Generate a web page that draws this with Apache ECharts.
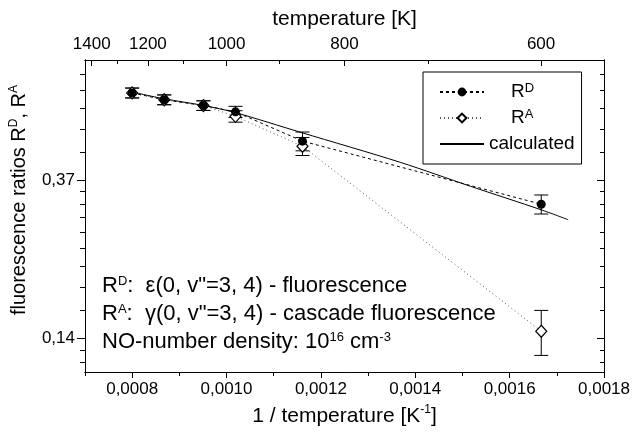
<!DOCTYPE html>
<html><head><meta charset="utf-8">
<script src="https://cdn.jsdelivr.net/npm/echarts@6/dist/echarts.min.js"></script>
<style>html,body{margin:0;padding:0;background:#fff}#c{width:637px;height:433px}</style>
</head><body><div id="c"></div>
<script>
const FONT = "'Liberation Sans', Arial, sans-serif";

// ---- data ----
const invTemp   = [0.000800, 0.000868, 0.000951, 0.001019, 0.001161, 0.001667];
const ratioD    = [0.639, 0.612, 0.590, 0.567, 0.471, 0.316];
const errD      = [0.020, 0.019, 0.018, 0.020, 0.028, 0.019];
const ratioA    = [0.639, 0.612, 0.590, 0.551, 0.456, 0.1414];
const errA      = [0.020, 0.019, 0.018, 0.020, 0.026, 0.020];
const calcInvTemp = [0.000797, 0.000867, 0.000952, 0.001019, 0.001157, 0.001368, 0.001517, 0.001667, 0.001724];
const calcRatio   = [0.644, 0.616, 0.590, 0.564, 0.498, 0.412, 0.354, 0.305, 0.2865];

// ---- axis ticks ----
const xRange = [0.0007, 0.0018];
const xMajorTicks = [0.0008, 0.0010, 0.0012, 0.0014, 0.0016, 0.0018];
const xMinorTicks = [0.0007, 0.0009, 0.0011, 0.0013, 0.0015, 0.0017];
const tempMajorTicks = [1400, 1200, 1000, 800, 600];
const tempMinorTicks = [1300, 1100, 900, 700];
const yRange = [0.1093, 0.787];
const yMajorTicks = [0.13534, 0.36788];
const yMinorTicks = [0.1163, 0.1258, 0.1612, 0.1870, 0.2129, 0.2387, 0.2646, 0.2904, 0.3162, 0.3421, 0.4381, 0.5083, 0.5786, 0.6488, 0.7190];

const axisColor = '#000';
const lineSt = {color: axisColor, width: 1};
const supRich = {
  s: {fontSize: 12, fontFamily: FONT, color: '#000', verticalAlign: 'top', lineHeight: 12},
};

function xAx(extra) {
  return Object.assign({
    type: 'value', min: xRange[0], max: xRange[1],
    splitLine: {show: false}, axisLine: {show: true, onZero: false, lineStyle: lineSt},
    axisTick: {show: false}, axisLabel: {show: false}
  }, extra);
}
function yAx(extra) {
  return Object.assign({
    type: 'log', logBase: Math.E, min: yRange[0], max: yRange[1],
    splitLine: {show: false}, minorSplitLine: {show: false},
    axisLine: {show: true, onZero: false, lineStyle: lineSt},
    axisTick: {show: false}, axisLabel: {show: false}
  }, extra);
}
// helper tick axes placed in natural-log units (same extent as the log axis)
function yLnTicks(position, values, length, inside) {
  return {
    type: 'value', position: position,
    min: Math.log(yRange[0]), max: Math.log(yRange[1]),
    splitLine: {show: false},
    axisLine: {show: true, onZero: false, lineStyle: lineSt},
    axisTick: {show: true, inside: inside, length: length, lineStyle: lineSt,
      customValues: values.map(Math.log).sort((a, b) => a - b)},
    axisLabel: {show: false}
  };
}

const fmtX = v => v.toFixed(4).replace('.', ',');
const fmtY = v => v.toFixed(2).replace('.', ',');

const chart = echarts.init(document.getElementById('c'), null, {renderer: 'canvas'});

function errRender(params, api) {
  const x = api.value(0), y = api.value(1), e = api.value(2);
  const top = api.coord([x, y + e]);
  const bot = api.coord([x, y - e]);
  const hw = 7;
  const st = {stroke: '#000', lineWidth: 1};
  return {type: 'group', children: [
    {type: 'line', shape: {x1: top[0], y1: top[1], x2: bot[0], y2: bot[1]}, style: st},
    {type: 'line', shape: {x1: top[0] - hw, y1: top[1], x2: top[0] + hw, y2: top[1]}, style: st},
    {type: 'line', shape: {x1: bot[0] - hw, y1: bot[1], x2: bot[0] + hw, y2: bot[1]}, style: st}
  ]};
}

const legendNames = {RD: '{p|}R{s|D}', RA: '{p|}R{s|A}', calculated: 'calculated'};
const annRich = {s: {fontSize: 13, fontFamily: FONT, fill: '#000', verticalAlign: 'top', lineHeight: 13}};

const option = {
  animation: false,
  backgroundColor: '#fff',
  textStyle: {fontFamily: FONT, color: '#000'},
  grid: {left: 84, right: 33, top: 60, bottom: 59},
  xAxis: [
    xAx({position: 'bottom',
      axisTick: {show: true, customValues: xMajorTicks, length: 6, lineStyle: lineSt},
      axisLabel: {show: true, customValues: xMajorTicks, formatter: fmtX, fontSize: 17, color: '#000', fontFamily: FONT, margin: 9},
      name: '1 / temperature [K{s|-1}]', nameLocation: 'middle', nameGap: 32,
      nameTextStyle: {fontSize: 21, color: '#000', fontFamily: FONT, lineHeight: 24, rich: supRich}
    }),
    xAx({position: 'bottom',
      axisTick: {show: true, customValues: xMinorTicks, length: 4, lineStyle: lineSt}
    }),
    xAx({position: 'top',
      axisTick: {show: true, inside: true, customValues: tempMajorTicks.map(t => 1 / t), length: 6, lineStyle: lineSt},
      axisLabel: {show: true, customValues: tempMajorTicks.map(t => 1 / t), formatter: v => String(Math.round(1 / v)), fontSize: 17, color: '#000', fontFamily: FONT, margin: 7},
      name: 'temperature [K]', nameLocation: 'middle', nameGap: 30,
      nameTextStyle: {fontSize: 21, color: '#000', fontFamily: FONT}
    }),
    xAx({position: 'top',
      axisTick: {show: true, inside: true, customValues: tempMinorTicks.map(t => 1 / t), length: 4, lineStyle: lineSt}
    })
  ],
  yAxis: [
    yAx({position: 'left',
      axisTick: {show: true, customValues: yMajorTicks, length: 8, lineStyle: lineSt},
      axisLabel: {show: true, customValues: yMajorTicks, formatter: fmtY, fontSize: 17, color: '#000', fontFamily: FONT, margin: 10},
      name: 'fluorescence ratios R{s|D}, R{s|A}', nameLocation: 'middle', nameGap: 44, nameRotate: 90,
      nameTextStyle: {fontSize: 20, color: '#000', fontFamily: FONT, lineHeight: 23, rich: supRich, padding: [0, 0, 0, 32]}
    }),
    yLnTicks('left', yMinorTicks, 5, false),
    yLnTicks('right', yMajorTicks, 7, true),
    yLnTicks('right', yMinorTicks, 4, true)
  ],
  legend: {
    orient: 'vertical', left: 423, top: 72,
    padding: [10, 7, 10, 16],
    borderColor: '#000', borderWidth: 1, borderRadius: 0,
    itemWidth: 44, itemHeight: 11, itemGap: 6,
    selectedMode: false,
    data: [
      {name: 'RD'},
      {name: 'RA'},
      {name: 'calculated', itemStyle: {color: 'rgba(0,0,0,0)', borderWidth: 0, opacity: 0}}
    ],
    formatter: n => legendNames[n],
    textStyle: {fontSize: 19, color: '#000', fontFamily: FONT, lineHeight: 20,
      rich: {p: {width: 22}, s: {fontSize: 13, fontFamily: FONT, color: '#000', verticalAlign: 'top', lineHeight: 13}}}
  },
  graphic: [
    {type: 'text', left: 102, top: 275, style: {text: 'R{s|D}:  ε(0, v"=3, 4) - fluorescence', font: '22px ' + FONT, fill: '#000', rich: annRich}},
    {type: 'text', left: 102, top: 303, style: {text: 'R{s|A}:  γ(0, v"=3, 4) - cascade fluorescence', font: '22px ' + FONT, fill: '#000', rich: annRich}},
    {type: 'text', left: 102, top: 331, style: {text: 'NO-number density: 10{s|16} cm{s|-3}', font: '22px ' + FONT, fill: '#000', rich: annRich}}
  ],
  series: [
    {type: 'custom', name: 'errA', xAxisIndex: 0, yAxisIndex: 0, renderItem: errRender,
      data: invTemp.map((x, i) => [x, ratioA[i], errA[i]]), z: 2, silent: true},
    {type: 'custom', name: 'errD', xAxisIndex: 0, yAxisIndex: 0, renderItem: errRender,
      data: invTemp.map((x, i) => [x, ratioD[i], errD[i]]), z: 2, silent: true},
    {type: 'line', name: 'calculated', xAxisIndex: 0, yAxisIndex: 0, smooth: 0.3, symbol: 'none', showSymbol: false,
      lineStyle: {color: '#000', width: 1}, itemStyle: {color: '#000'},
      data: calcInvTemp.map((x, i) => [x, calcRatio[i]]), z: 3},
    {type: 'line', name: 'RA', xAxisIndex: 0, yAxisIndex: 0, symbol: 'diamond', symbolSize: [11, 12],
      lineStyle: {color: '#555', width: 1, type: [1, 3]},
      itemStyle: {color: '#fff', borderColor: '#000', borderWidth: 1.2},
      data: invTemp.map((x, i) => [x, ratioA[i]]), z: 4},
    {type: 'line', name: 'RD', xAxisIndex: 0, yAxisIndex: 0, symbol: 'circle', symbolSize: 9,
      lineStyle: {color: '#000', width: 1, type: [3, 3]},
      itemStyle: {color: '#000', borderColor: '#000', borderWidth: 0},
      data: invTemp.map((x, i) => [x, ratioD[i]]), z: 5}
  ]
};
chart.setOption(option);
</script></body></html>
